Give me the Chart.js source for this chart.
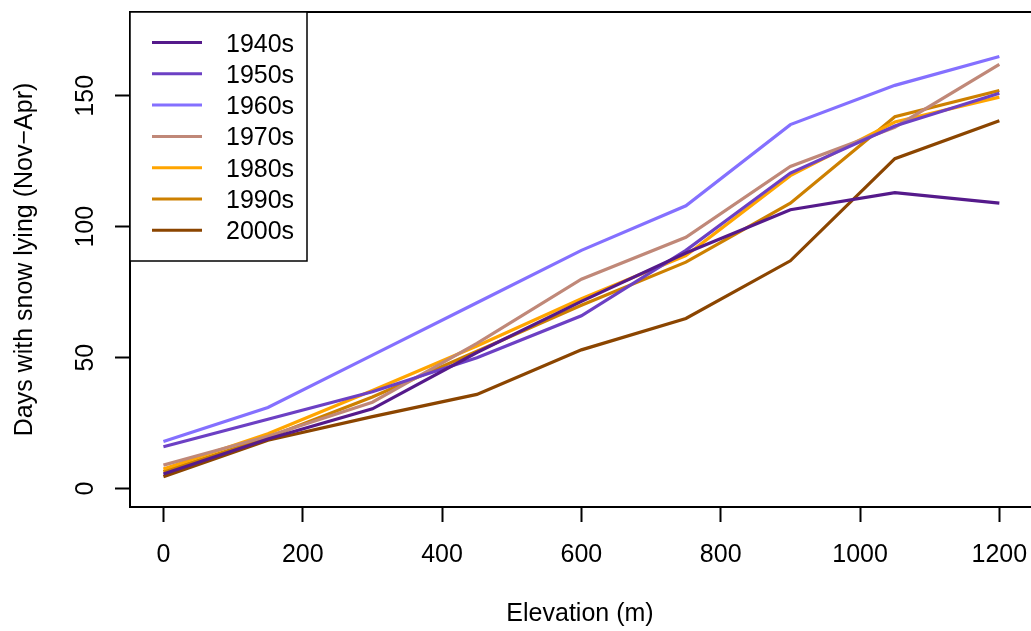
<!DOCTYPE html>
<html>
<head>
<meta charset="utf-8">
<script src="https://cdn.jsdelivr.net/npm/chart.js@4/dist/chart.umd.min.js"></script>
<style>
  body { margin: 0; background: #ffffff; }
  #myChart { display: block; }
</style>
</head>
<body>
<canvas id="myChart" width="1031" height="631"></canvas>
<script>
// elevation bands (m) and decadal mean days with snow lying
const elevation = [0, 150, 300, 450, 600, 750, 900, 1050, 1200];
const decades = ['1940s', '1950s', '1960s', '1970s', '1980s', '1990s', '2000s'];
const days1940s = [5.6, 19, 30.5, 52, 71.5, 90, 106.5, 113, 109];
const days1950s = [16, 26.5, 37, 50, 66, 91, 120.5, 138.5, 151];
const days1960s = [18, 31, 51, 71, 91, 108, 139, 154, 165];
const days1970s = [9, 20, 33, 55.5, 80, 96, 123, 138, 162];
const days1980s = [7.5, 21, 37.5, 54.5, 72.5, 89, 119.5, 140, 149.5];
const days1990s = [6.5, 19.5, 35, 52.5, 70, 86.5, 109, 142, 152];
const days2000s = [4.6, 18.5, 27.5, 36, 53, 65, 87, 126, 140.5];
const xTicks = [0, 200, 400, 600, 800, 1000, 1200];
const yTicks = [0, 50, 100, 150];

const colours = ["#551A8B", "#6C40C4", "#8470FF", "#C08878", "#FFA500", "#CD8000", "#8B4500"];
const series = [days1940s, days1950s, days1960s, days1970s, days1980s, days1990s, days2000s];

const FONT = "'Liberation Sans', Arial, Helvetica, sans-serif";
const FSIZE = 25;

function toPoints(values) {
    return values.map((v, i) => { return { x: elevation[i], y: v } })
}

// box round the plot region - the right side sits just past the canvas edge in the original
const boxPlugin = {
    id: 'box',
    afterDatasetsDraw(chart) {
        const a = chart.chartArea;
        const ctx = chart.ctx;
        ctx.save();
        ctx.strokeStyle = '#000';
        ctx.lineWidth = 2;
        ctx.beginPath();
        ctx.moveTo(chart.width, a.top);
        ctx.lineTo(a.left, a.top);
        ctx.lineTo(a.left, a.bottom);
        ctx.lineTo(chart.width, a.bottom);
        ctx.stroke();
        ctx.restore();
    }
};

// R-style y tick labels, rotated to read upwards
const yLabelPlugin = {
    id: 'yLabels',
    afterDraw(chart) {
        const scale = chart.scales.y;
        const ctx = chart.ctx;
        ctx.save();
        ctx.fillStyle = '#000';
        ctx.font = FSIZE + 'px ' + FONT;
        ctx.textAlign = 'center';
        ctx.textBaseline = 'alphabetic';
        scale.ticks.forEach((t) => {
            const py = scale.getPixelForValue(t.value);
            ctx.save();
            ctx.translate(93, py);
            ctx.rotate(-Math.PI / 2);
            ctx.fillText(String(t.value), 0, 0);
            ctx.restore();
        });
        ctx.restore();
    }
};

// boxed legend in the top-left corner of the plot
const legendPlugin = {
    id: 'boxLegend',
    afterDraw(chart) {
        const a = chart.chartArea;
        const ctx = chart.ctx;
        ctx.save();
        ctx.fillStyle = '#fff';
        ctx.fillRect(a.left, a.top, 177, 249);
        ctx.strokeStyle = '#000';
        ctx.lineWidth = 1.5;
        ctx.strokeRect(a.left, a.top, 177, 249);
        ctx.font = FSIZE + 'px ' + FONT;
        ctx.textBaseline = 'alphabetic';
        chart.data.datasets.forEach((ds, i) => {
            const y = a.top + 30.5 + i * 31.3;
            ctx.strokeStyle = ds.borderColor;
            ctx.lineWidth = 3;
            ctx.beginPath();
            ctx.moveTo(a.left + 22, y);
            ctx.lineTo(a.left + 72, y);
            ctx.stroke();
            ctx.fillStyle = '#000';
            ctx.fillText(ds.label, a.left + 96, y + 9);
        });
        ctx.restore();
    }
};

const data = {
    datasets: decades.map((d, i) => {
        return {
            label: d,
            data: toPoints(series[i]),
            borderColor: colours[i],
            backgroundColor: colours[i],
            borderWidth: 3.2,
            pointRadius: 0,
            tension: 0
        }
    })
};

const config = {
    type: 'line',
    data: data,
    options: {
        responsive: false,
        animation: false,
        layout: { padding: { left: 0, right: 1, top: 12, bottom: 0 } },
        plugins: {
            legend: { display: false },
            tooltip: { enabled: false }
        },
        scales: {
            x: {
                type: 'linear',
                min: -48,
                max: 1244,
                afterBuildTicks: (scale) => { scale.ticks = xTicks.map((v) => { return { value: v } }) },
                afterFit: (scale) => { scale.height = 124; scale.paddingLeft = 0; scale.paddingRight = 0 },
                border: { display: false },
                grid: { drawOnChartArea: false, drawTicks: true, tickLength: 15, tickColor: '#000', tickWidth: 2 },
                ticks: {
                    color: '#000', font: { family: FONT, size: FSIZE }, padding: 18, maxRotation: 0, autoSkip: false,
                    callback: (v) => String(v)
                },
                title: { display: true, text: 'Elevation (m)', color: '#000', font: { family: FONT, size: FSIZE }, padding: { top: 0, bottom: 2 } }
            },
            y: {
                type: 'linear',
                min: -7,
                max: 182,
                afterBuildTicks: (scale) => { scale.ticks = yTicks.map((v) => { return { value: v } }) },
                afterFit: (scale) => { scale.width = 130; scale.paddingTop = 0; scale.paddingBottom = 0 },
                border: { display: false },
                grid: { drawOnChartArea: false, drawTicks: true, tickLength: 15, tickColor: '#000', tickWidth: 2 },
                ticks: { display: false },
                title: { display: true, text: 'Days with snow lying (Nov\u2212Apr)', color: '#000', font: { family: FONT, size: FSIZE }, padding: { top: 10, bottom: 0 } }
            }
        }
    },
    plugins: [boxPlugin, yLabelPlugin, legendPlugin]
};

const myChart = new Chart(document.getElementById('myChart'), config);
</script>
</body>
</html>
